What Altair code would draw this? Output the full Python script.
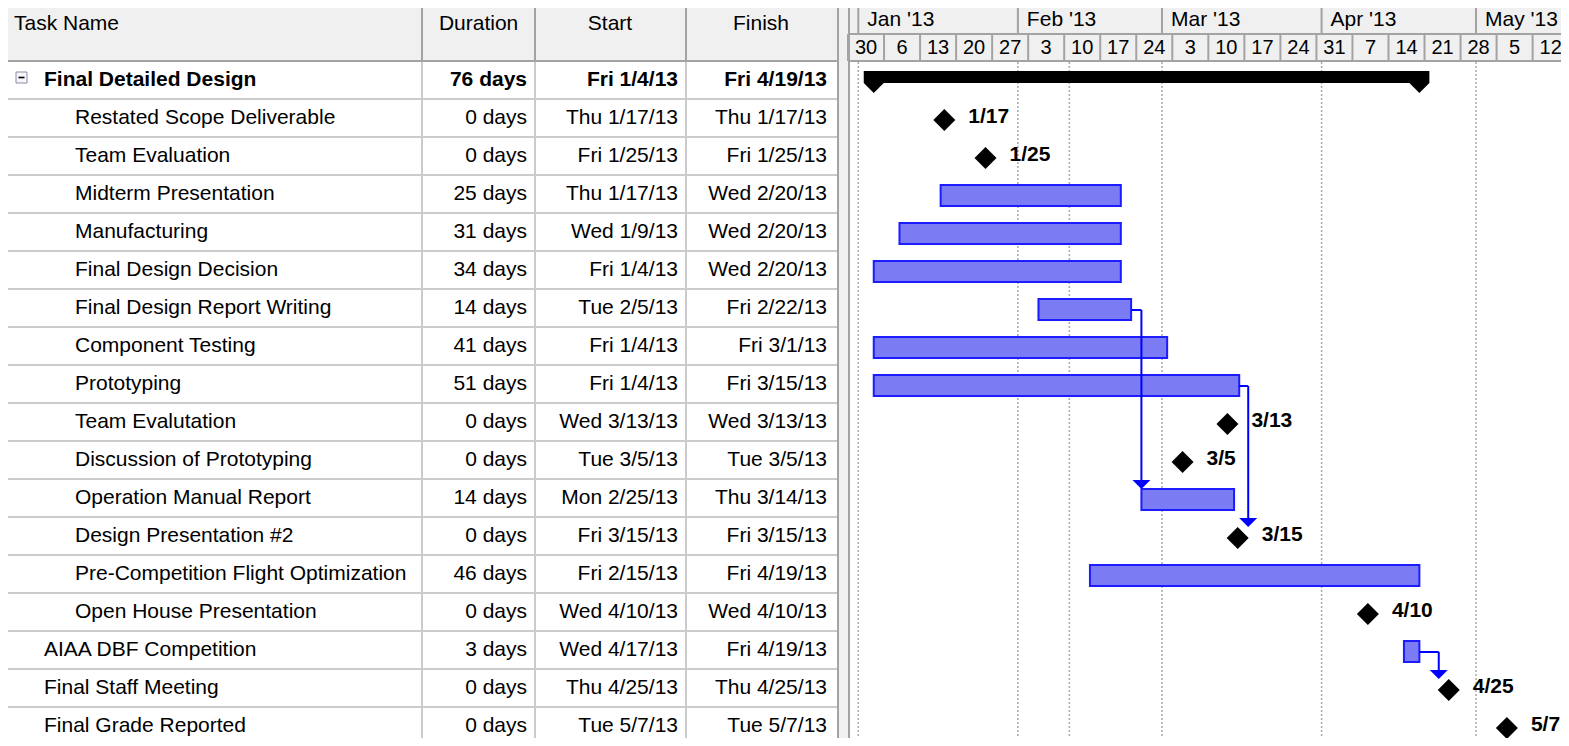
import altair as alt
import pandas as pd
from datetime import datetime

# ---------------- data ----------------
task_names = [
    "Final Detailed Design", "Restated Scope Deliverable", "Team Evaluation",
    "Midterm Presentation", "Manufacturing", "Final Design Decision",
    "Final Design Report Writing", "Component Testing", "Prototyping",
    "Team Evalutation", "Discussion of Prototyping", "Operation Manual Report",
    "Design Presentation #2", "Pre-Competition Flight Optimization",
    "Open House Presentation", "AIAA DBF Competition", "Final Staff Meeting",
    "Final Grade Reported",
]
outline_levels = [1, 2, 2, 2, 2, 2, 2, 2, 2, 2, 2, 2, 2, 2, 2, 1, 1, 1]
is_summary = [True] + [False] * 17
durations = [
    "76 days", "0 days", "0 days", "25 days", "31 days", "34 days", "14 days",
    "41 days", "51 days", "0 days", "0 days", "14 days", "0 days", "46 days",
    "0 days", "3 days", "0 days", "0 days",
]
start_labels = [
    "Fri 1/4/13", "Thu 1/17/13", "Fri 1/25/13", "Thu 1/17/13", "Wed 1/9/13",
    "Fri 1/4/13", "Tue 2/5/13", "Fri 1/4/13", "Fri 1/4/13", "Wed 3/13/13",
    "Tue 3/5/13", "Mon 2/25/13", "Fri 3/15/13", "Fri 2/15/13", "Wed 4/10/13",
    "Wed 4/17/13", "Thu 4/25/13", "Tue 5/7/13",
]
finish_labels = [
    "Fri 4/19/13", "Thu 1/17/13", "Fri 1/25/13", "Wed 2/20/13", "Wed 2/20/13",
    "Wed 2/20/13", "Fri 2/22/13", "Fri 3/1/13", "Fri 3/15/13", "Wed 3/13/13",
    "Tue 3/5/13", "Thu 3/14/13", "Fri 3/15/13", "Fri 4/19/13", "Wed 4/10/13",
    "Fri 4/19/13", "Thu 4/25/13", "Tue 5/7/13",
]
# time of day of each milestone ("" = not a milestone)
milestone_clock = [
    "", "17:00", "17:00", "", "", "", "", "", "", "17:00", "00:00", "",
    "17:00", "", "00:00", "", "17:00", "00:00",
]
link_from = ["Final Design Report Writing", "Prototyping", "AIAA DBF Competition"]
link_to = ["Operation Manual Report", "Design Presentation #2", "Final Staff Meeting"]

month_labels = ["Jan '13", "Feb '13", "Mar '13", "Apr '13", "May '13"]
month_starts = ["1/1/13", "2/1/13", "3/1/13", "4/1/13", "5/1/13"]
week_labels = ["30", "6", "13", "20", "27", "3", "10", "17", "24", "3",
               "10", "17", "24", "31", "7", "14", "21", "28", "5", "12"]
week_starts = ["12/30/12", "1/6/13", "1/13/13", "1/20/13", "1/27/13", "2/3/13",
               "2/10/13", "2/17/13", "2/24/13", "3/3/13", "3/10/13", "3/17/13",
               "3/24/13", "3/31/13", "4/7/13", "4/14/13", "4/21/13", "4/28/13",
               "5/5/13", "5/12/13"]
status_date = "2/11/13"
column_headers = ["Task Name", "Duration", "Start", "Finish"]

# ---------------- layout ----------------
W, H = 1553, 730
HEADER_H, TIER_H, ROW_H = 53, 26, 38
TABLE_W, GANTT_X0 = 830, 842
JAN1_PX, PX_PER_DAY = 850.3, 5.1475
FONT = "Liberation Sans"
FS = 21
HDR_LINE = "#a3a3a3"
GRID_LINE = "#cbcbcb"
BAR_FILL = "#7b7bf4"
BAR_STROKE = "#1c1cff"
LINK = "#0000ff"

BASE = datetime(2013, 1, 1)


def day_num(label):
    d = datetime.strptime(label.split()[-1], "%m/%d/%y")
    return (d - BASE).days


xscale = alt.Scale(domain=[(GANTT_X0 - JAN1_PX) / PX_PER_DAY, (W - JAN1_PX) / PX_PER_DAY],
                   range=[GANTT_X0, W], nice=False, zero=False)
yscale = alt.Scale(domain=[0, 18], range=[HEADER_H, HEADER_H + 18 * ROW_H],
                   nice=False, zero=False)

recs = []
for i, name in enumerate(task_names):
    s = day_num(start_labels[i])
    f = day_num(finish_labels[i])
    clock = milestone_clock[i]
    msx = f + int(clock.split(":")[0]) / 24 if clock else None
    recs.append(dict(
        r=i, yc=i + 0.5, name=name, level=outline_levels[i], summary=is_summary[i],
        dur=durations[i], start=start_labels[i], finish=finish_labels[i],
        s=s, e=f + 1, ms=durations[i] == "0 days", msx=msx,
        mslabel=finish_labels[i].split()[-1].rsplit("/", 1)[0],
    ))
df = pd.DataFrame(recs)

bars = df[(~df.ms) & (~df.summary)]
miles = df[df.ms]
summ = df[df.summary]
summ_caps = pd.DataFrame({"x": [summ.s.iloc[0], summ.e.iloc[0]], "yc": [0.5, 0.5]})

lk = []
gap_days = 9 / PX_PER_DAY
diamond_half_days = 10 / PX_PER_DAY
for a, b in zip(link_from, link_to):
    p = df[df.name == a].iloc[0]
    q = df[df.name == b].iloc[0]
    succ_x = q.msx - diamond_half_days if q.ms else q.s
    lx = max(succ_x, p.e + gap_days)
    lk.append(dict(x0=p.e, x1=lx, yp=p.yc, ys=q.yc))
links = pd.DataFrame(lk)

months = pd.DataFrame({"label": month_labels, "d": [day_num(m) for m in month_starts]})
weeks = pd.DataFrame({"label": week_labels, "d": [day_num(w) for w in week_starts]})
weeks["mid"] = weeks.d + 3.5
gridd = pd.DataFrame({"d": list(months.d) + [day_num(status_date)]})
rowlines = pd.DataFrame({"k": list(range(1, 19))})

one = pd.DataFrame({"_": [0]})


def box(x0, x1, y0, y1, fill):
    return alt.Chart(one).mark_rect(fill=fill).encode(
        x=alt.value(x0), x2=alt.value(x1), y=alt.value(y0), y2=alt.value(y1))


def hline(x0, x1, y, color, w=2):
    return alt.Chart(one).mark_rule(color=color, strokeWidth=w).encode(
        x=alt.value(x0), x2=alt.value(x1), y=alt.value(y))


def vline(x, y0, y1, color, w=2):
    return alt.Chart(one).mark_rule(color=color, strokeWidth=w).encode(
        x=alt.value(x), y=alt.value(y0), y2=alt.value(y1))


def label(text, x, y, align, weight="normal", size=FS):
    return alt.Chart(one).mark_text(
        text=text, align=align, baseline="middle", font=FONT, fontSize=size,
        fontWeight=weight, color="#000000").encode(x=alt.value(x), y=alt.value(y))


Y = alt.Y("yc:Q", scale=yscale, axis=None)
Y2 = alt.Y2("yc")

layers = []
# backgrounds
layers += [box(0, TABLE_W, HEADER_H, H, "#ffffff"), box(GANTT_X0, W, HEADER_H, H, "#ffffff")]

# table grid
layers.append(alt.Chart(rowlines).mark_rule(color=GRID_LINE, strokeWidth=2).encode(
    y=alt.Y("k:Q", scale=yscale, axis=None), x=alt.value(0), x2=alt.value(TABLE_W)))
col_x = [414, 527, 678]
for cx in col_x:
    layers.append(vline(cx, HEADER_H, H, GRID_LINE))
    layers.append(vline(cx, 0, HEADER_H, HDR_LINE))
layers.append(vline(TABLE_W, 0, H, HDR_LINE))
layers.append(hline(0, TABLE_W, HEADER_H, HDR_LINE))
layers.append(vline(GANTT_X0 - 1, 0, H, HDR_LINE))

# gantt timescale header
layers.append(alt.Chart(months).mark_rule(color=HDR_LINE, strokeWidth=2).encode(
    x=alt.X("d:Q", scale=xscale, axis=None), y=alt.value(0), y2=alt.value(TIER_H)))
layers.append(alt.Chart(weeks).mark_rule(color=HDR_LINE, strokeWidth=2).encode(
    x=alt.X("d:Q", scale=xscale, axis=None), y=alt.value(TIER_H), y2=alt.value(HEADER_H)))
layers.append(hline(GANTT_X0, W, TIER_H, HDR_LINE))
layers.append(hline(GANTT_X0, W, HEADER_H, HDR_LINE))
layers.append(alt.Chart(months).mark_text(
    align="left", baseline="middle", dx=9, font=FONT, fontSize=FS, color="#000000").encode(
    x=alt.X("d:Q", scale=xscale, axis=None), y=alt.value(12), text="label:N"))
layers.append(alt.Chart(weeks).mark_text(
    align="center", baseline="middle", font=FONT, fontSize=20, color="#000000").encode(
    x=alt.X("mid:Q", scale=xscale, axis=None), y=alt.value(40), text="label:N"))

# dotted gridlines
layers.append(alt.Chart(gridd).mark_rule(color="#a8a8a8", strokeWidth=1.5, strokeDash=[2, 2]).encode(
    x=alt.X("d:Q", scale=xscale, axis=None), y=alt.value(HEADER_H + 1), y2=alt.value(H)))

# task bars
layers.append(alt.Chart(bars).mark_rect(
    fill=BAR_FILL, stroke=BAR_STROKE, strokeWidth=2, yOffset=-9, y2Offset=12).encode(
    x=alt.X("s:Q", scale=xscale, axis=None), x2="e:Q", y=Y, y2=Y2))

# summary bar
layers.append(alt.Chart(summ).mark_rect(
    color="#000000", xOffset=-10, x2Offset=10, yOffset=-9, y2Offset=3).encode(
    x=alt.X("s:Q", scale=xscale, axis=None), x2="e:Q", y=Y, y2=Y2))
layers.append(alt.Chart(summ_caps).mark_point(
    shape="M-1,0L1,0L0,1Z", filled=True, size=400, color="#000000", opacity=1, yOffset=3).encode(
    x=alt.X("x:Q", scale=xscale, axis=None), y=Y))

# dependency links
layers.append(alt.Chart(links).mark_rule(color=LINK, strokeWidth=2, yOffset=2).encode(
    x=alt.X("x0:Q", scale=xscale, axis=None), x2="x1:Q",
    y=alt.Y("yp:Q", scale=yscale, axis=None)))
layers.append(alt.Chart(links).mark_rule(color=LINK, strokeWidth=2, yOffset=2, y2Offset=-12).encode(
    x=alt.X("x1:Q", scale=xscale, axis=None),
    y=alt.Y("yp:Q", scale=yscale, axis=None), y2="ys:Q"))
layers.append(alt.Chart(links).mark_point(
    shape="M-1,-1L1,-1L0,0Z", filled=True, size=324, color=LINK, opacity=1, yOffset=-9).encode(
    x=alt.X("x1:Q", scale=xscale, axis=None), y=alt.Y("ys:Q", scale=yscale, axis=None)))

# milestones
layers.append(alt.Chart(miles).mark_point(
    shape="M0,-1L1,0L0,1L-1,0Z", filled=True, size=484, color="#000000", opacity=1, yOffset=2).encode(
    x=alt.X("msx:Q", scale=xscale, axis=None), y=Y))
layers.append(alt.Chart(miles).mark_text(
    align="left", baseline="middle", dx=24, dy=-1, font=FONT, fontSize=FS,
    fontWeight="bold", color="#000000").encode(
    x=alt.X("msx:Q", scale=xscale, axis=None), y=Y, text="mslabel:N"))

# table text
sub2 = df[(df.level == 2)]
sub1 = df[(df.level == 1) & (~df.summary)]
txt = dict(baseline="middle", font=FONT, fontSize=FS, color="#000000")
for part, weight in ((df[~df.summary], "normal"), (summ, "bold")):
    layers.append(alt.Chart(part).mark_text(align="right", fontWeight=weight, **txt).encode(
        x=alt.value(519), y=Y, text="dur:N"))
    layers.append(alt.Chart(part).mark_text(align="right", fontWeight=weight, **txt).encode(
        x=alt.value(670), y=Y, text="start:N"))
    layers.append(alt.Chart(part).mark_text(align="right", fontWeight=weight, **txt).encode(
        x=alt.value(819), y=Y, text="finish:N"))
layers.append(alt.Chart(sub2).mark_text(align="left", **txt).encode(
    x=alt.value(67), y=Y, text="name:N"))
layers.append(alt.Chart(sub1).mark_text(align="left", **txt).encode(
    x=alt.value(36), y=Y, text="name:N"))
layers.append(alt.Chart(summ).mark_text(align="left", fontWeight="bold", **txt).encode(
    x=alt.value(36), y=Y, text="name:N"))

# outline collapse box
layers.append(alt.Chart(one).mark_point(
    shape="square", size=121, filled=True, fill="#f6f6fb", stroke="#8c8ca6",
    strokeWidth=1, opacity=1).encode(x=alt.value(13.5), y=alt.value(69.5)))
layers.append(hline(10.5, 16.5, 69.5, "#000000", 1.6))

# column headers
layers.append(label(column_headers[0], 6, 16, "left"))
layers.append(label(column_headers[1], 470.6, 16, "center"))
layers.append(label(column_headers[2], 602, 16, "center"))
layers.append(label(column_headers[3], 753, 16, "center"))

chart = alt.layer(*layers).properties(
    width=W, height=H, background="#f0f0f0", padding=0,
    autosize=alt.AutoSizeParams(type="none"),
).configure_view(stroke=None)

chart.save("out.html", embed_options={"renderer": "svg", "actions": False})
